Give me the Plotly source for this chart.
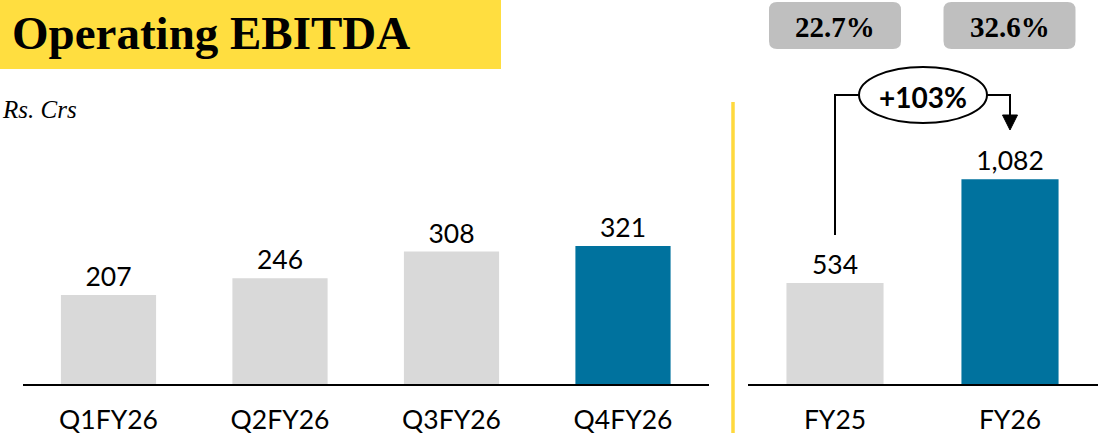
import plotly.graph_objects as go

# ---- data ----
quarters = ["Q1FY26", "Q2FY26", "Q3FY26", "Q4FY26"]
quarter_values = [207, 246, 308, 321]
quarter_colors = ["#D9D9D9", "#D9D9D9", "#D9D9D9", "#00729E"]

years = ["FY25", "FY26"]
year_values = [534, 1082]
year_colors = ["#D9D9D9", "#00729E"]
year_margins = ["22.7%", "32.6%"]

title_text = "Operating EBITDA"
unit_text = "Rs. Crs"

growth = round((year_values[1] / year_values[0] - 1) * 100)
growth_text = f"+{growth}%"

# ---- geometry helpers (pixel -> paper) ----
W, H = 1104, 433
def px(x):
    return x / W
def py(y):
    return 1 - y / H

BASE = 384  # baseline pixel row
LBL_FONT = dict(family="Lato, Calibri, sans-serif", size=26.5, color="#000000")

fig = go.Figure()
fig.add_trace(go.Bar(
    x=quarters, y=quarter_values, marker=dict(color=quarter_colors, line=dict(width=0)),
    width=0.555, text=quarter_values, texttemplate="%{y:,}", textposition="outside",
    textfont=LBL_FONT, cliponaxis=False, xaxis="x", yaxis="y", hoverinfo="skip",
))
fig.add_trace(go.Bar(
    x=years, y=year_values, marker=dict(color=year_colors, line=dict(width=0)),
    width=0.555, text=year_values, texttemplate="%{y:,}", textposition="outside",
    textfont=LBL_FONT, cliponaxis=False, xaxis="x2", yaxis="y2", hoverinfo="skip",
))

axis_common = dict(
    showline=True, linecolor="#000000", linewidth=2, showgrid=False, zeroline=False,
    ticks="outside", ticklen=11, tickcolor="rgba(0,0,0,0)", automargin=False,
    tickfont=LBL_FONT, fixedrange=True,
)
yaxis_common = dict(visible=False, showgrid=False, zeroline=False, fixedrange=True, automargin=False)

fig.update_layout(
    width=W, height=H, margin=dict(l=0, r=0, t=0, b=0, autoexpand=False),
    paper_bgcolor="#FFFFFF", plot_bgcolor="rgba(0,0,0,0)",
    showlegend=False, uniformtext=dict(mode=False),
    xaxis=dict(domain=[px(22.75), px(708.75)], anchor="y", **axis_common),
    yaxis=dict(domain=[py(BASE), 1], range=[0, (BASE - 0) / 0.43], anchor="x", **yaxis_common),
    xaxis2=dict(domain=[px(747.5), px(1097.5)], anchor="y2", **axis_common),
    yaxis2=dict(domain=[py(BASE), 1], range=[0, (BASE - 0) / 0.1893], anchor="x2", **yaxis_common),
)

def rounded_rect(x0, y0, x1, y1, r):
    pts = (
        f"M {px(x0 + r)},{py(y0)} L {px(x1 - r)},{py(y0)} "
        f"Q {px(x1)},{py(y0)} {px(x1)},{py(y0 + r)} "
        f"L {px(x1)},{py(y1 - r)} Q {px(x1)},{py(y1)} {px(x1 - r)},{py(y1)} "
        f"L {px(x0 + r)},{py(y1)} Q {px(x0)},{py(y1)} {px(x0)},{py(y1 - r)} "
        f"L {px(x0)},{py(y0 + r)} Q {px(x0)},{py(y0)} {px(x0 + r)},{py(y0)} Z"
    )
    return pts

shapes = []
# title band
shapes.append(dict(type="rect", xref="paper", yref="paper", x0=0, x1=px(501), y0=py(69), y1=1,
                   fillcolor="#FFDE40", line=dict(width=0), layer="below"))
# yellow divider
shapes.append(dict(type="line", xref="paper", yref="paper", x0=px(733), x1=px(733), y0=py(102), y1=0,
                   line=dict(color="#FFD93D", width=3.5)))
# grey margin boxes
for cx in (835, 1009.5):
    shapes.append(dict(type="path", xref="paper", yref="paper",
                       path=rounded_rect(cx - 66, 2, cx + 66, 49, 8),
                       fillcolor="#BFBFBF", line=dict(width=0), layer="below"))
# connector: from FY25 up, across to ellipse, then down to FY26 arrow
shapes.append(dict(type="path", xref="paper", yref="paper",
                   path=f"M {px(835)},{py(235)} L {px(835)},{py(95)} L {px(860)},{py(95)}",
                   line=dict(color="#000000", width=2)))
shapes.append(dict(type="path", xref="paper", yref="paper",
                   path=f"M {px(986)},{py(95)} L {px(1010)},{py(95)} L {px(1010)},{py(117)}",
                   line=dict(color="#000000", width=2)))
shapes.append(dict(type="path", xref="paper", yref="paper",
                   path=f"M {px(1002.5)},{py(115)} L {px(1017.5)},{py(115)} L {px(1010)},{py(130)} Z",
                   fillcolor="#000000", line=dict(color="#000000", width=1)))
# ellipse
shapes.append(dict(type="circle", xref="paper", yref="paper", x0=px(859), x1=px(987), y0=py(123), y1=py(67),
                   fillcolor="#FFFFFF", line=dict(color="#000000", width=2)))
fig.update_layout(shapes=shapes)

annotations = [
    dict(text=title_text, xref="paper", yref="paper", x=px(10), y=py(33), xanchor="left", yanchor="middle",
         showarrow=False, font=dict(family="Liberation Serif, serif", size=47, weight="bold", color="#000000")),
    dict(text=unit_text, xref="paper", yref="paper", x=px(0), y=py(109), xanchor="left", yanchor="middle",
         showarrow=False, font=dict(family="Liberation Serif, serif", size=25, style="italic", color="#000000")),
    dict(text=growth_text, xref="paper", yref="paper", x=px(923), y=py(97), xanchor="center", yanchor="middle",
         showarrow=False, font=dict(family="Lato, Calibri, sans-serif", size=28, weight="bold", color="#000000")),
]
for yr, m in zip(years, year_margins):
    annotations.append(dict(text=m, xref="x2", yref="paper", x=yr, y=py(27), xanchor="center", yanchor="middle",
                            showarrow=False,
                            font=dict(family="Liberation Serif, serif", size=29, weight="bold", color="#000000")))
fig.update_layout(annotations=annotations)

fig.write_html(
    "out.html",
    config={"displayModeBar": False, "staticPlot": True},
    post_script="document.body.style.margin='0';document.body.style.padding='0';document.body.style.overflow='hidden';",
)
